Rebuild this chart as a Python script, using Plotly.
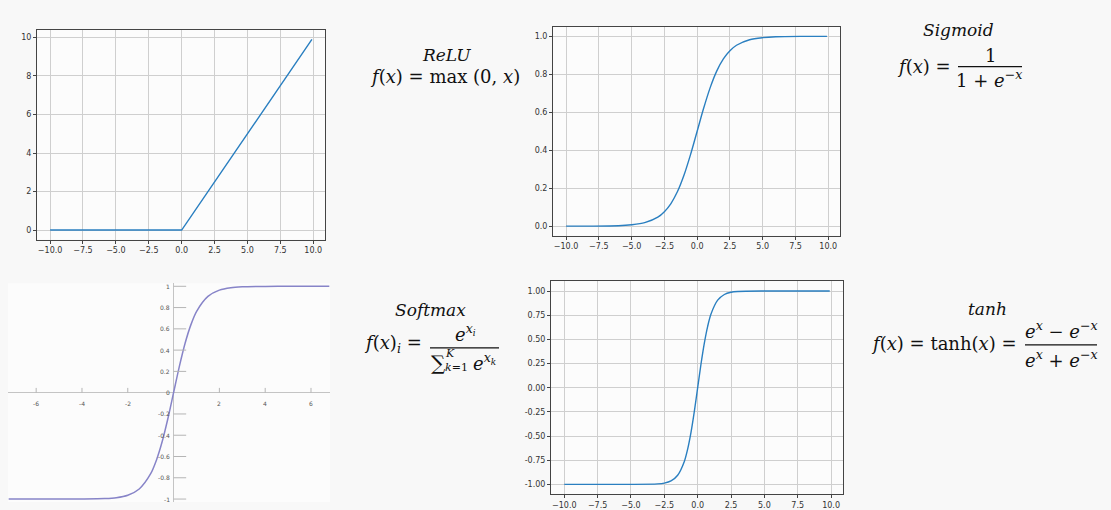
import plotly.graph_objects as go

W, H = 1111, 510

# ---------------- data ----------------
relu_x = [-10.0, 0.0, 9.9]
relu_y = [0.0, 0.0, 9.9]

sig_x = [-10, -8, -6, -5, -4, -3, -2.5, -2, -1.5, -1, -0.5, 0, 0.5, 1, 1.5, 2, 2.5, 3, 4, 5, 6, 8, 9.9]
sig_y = [0.0, 0.0, 0.002, 0.007, 0.018, 0.047, 0.076, 0.119, 0.182, 0.269, 0.378, 0.5,
         0.622, 0.731, 0.818, 0.881, 0.924, 0.953, 0.982, 0.993, 0.998, 1.0, 1.0]

tanh_x = [-10, -5, -3, -2.5, -2, -1.5, -1, -0.75, -0.5, -0.25, 0, 0.25, 0.5, 0.75, 1, 1.5, 2, 2.5, 3, 5, 9.9]
tanh_y = [-1.0, -1.0, -0.995, -0.987, -0.964, -0.905, -0.762, -0.635, -0.462, -0.245, 0.0,
          0.245, 0.462, 0.635, 0.762, 0.905, 0.964, 0.987, 0.995, 1.0, 1.0]

soft_x = [-7.2, -5, -4, -3, -2.5, -2, -1.5, -1, -0.75, -0.5, -0.25, 0, 0.25, 0.5, 0.75, 1, 1.5, 2, 2.5, 3, 4, 5, 6.8]
soft_y = [-1.0, -1.0, -0.999, -0.995, -0.987, -0.964, -0.905, -0.762, -0.635, -0.462, -0.245, 0.0,
          0.245, 0.462, 0.635, 0.762, 0.905, 0.964, 0.987, 0.995, 0.999, 1.0, 1.0]

x_ticks = [-10, -7.5, -5, -2.5, 0, 2.5, 5, 7.5, 10]
x_labels = ["\u221210.0", "\u22127.5", "\u22125.0", "\u22122.5", "0.0", "2.5", "5.0", "7.5", "10.0"]
relu_yticks = [0, 2, 4, 6, 8, 10]
relu_ylabels = ["0", "2", "4", "6", "8", "10"]
sig_yticks = [0, 0.2, 0.4, 0.6, 0.8, 1.0]
sig_ylabels = ["0.0", "0.2", "0.4", "0.6", "0.8", "1.0"]
tanh_yticks = [-1, -0.75, -0.5, -0.25, 0, 0.25, 0.5, 0.75, 1]
tanh_ylabels = ["-1.00", "-0.75", "-0.50", "-0.25", "0.00", "0.25", "0.50", "0.75", "1.00"]
soft_xticks = [-6, -4, -2, 2, 4, 6]
soft_xlabels = ["-6", "-4", "-2", "2", "4", "6"]
soft_yticks = [1, 0.8, 0.6, 0.4, 0.2, 0, -0.2, -0.4, -0.6, -0.8, -1]
soft_ylabels = ["1", "0.8", "0.6", "0.4", "0.2", "0", "-0.2", "-0.4", "-0.6", "-0.8", "-1"]

# ---------------- helpers ----------------
def px(x):
    return x / W

def py(y):
    return 1 - y / H

BLUE = "#2a7fc0"
PURPLE = "#8784c8"
TICKFONT = dict(family="DejaVu Sans", size=8, color="#333333")
MATHFONT = "DejaVu Serif"

fig = go.Figure()

fig.add_trace(go.Scatter(x=relu_x, y=relu_y, mode="lines", line=dict(color=BLUE, width=1.4),
                         xaxis="x", yaxis="y", showlegend=False))
fig.add_trace(go.Scatter(x=sig_x, y=sig_y, mode="lines", line=dict(color=BLUE, width=1.4, shape="spline", smoothing=0.8),
                         xaxis="x2", yaxis="y2", showlegend=False))
fig.add_trace(go.Scatter(x=soft_x, y=soft_y, mode="lines", line=dict(color=PURPLE, width=1.5, shape="spline", smoothing=0.8),
                         xaxis="x3", yaxis="y3", showlegend=False))
fig.add_trace(go.Scatter(x=tanh_x, y=tanh_y, mode="lines", line=dict(color=BLUE, width=1.4, shape="spline", smoothing=0.8),
                         xaxis="x4", yaxis="y4", showlegend=False))

def mpl_axis(domain, rng, tv, tt, anchor):
    return dict(domain=domain, range=rng, tickvals=tv, ticktext=tt, anchor=anchor,
                showgrid=True, gridcolor="#cfcfcf", gridwidth=1, zeroline=False,
                showline=True, linecolor="#444444", linewidth=1, mirror=True,
                ticks="outside", ticklen=3, tickcolor="#444444", tickfont=TICKFONT)

layout = dict(
    width=W, height=H, margin=dict(l=0, r=0, t=0, b=0),
    paper_bgcolor="#f8f8f8", plot_bgcolor="#fcfcfc", showlegend=False,
    xaxis=mpl_axis([px(37), px(325)], [-10.995, 10.895], x_ticks, x_labels, "y"),
    yaxis=mpl_axis([py(241), py(30)], [-0.495, 10.395], relu_yticks, relu_ylabels, "x"),
    xaxis2=mpl_axis([px(553), px(840)], [-10.995, 10.895], x_ticks, x_labels, "y2"),
    yaxis2=mpl_axis([py(237), py(27)], [-0.05, 1.05], sig_yticks, sig_ylabels, "x2"),
    xaxis4=mpl_axis([px(551), px(843)], [-10.995, 10.895], x_ticks, x_labels, "y4"),
    yaxis4=mpl_axis([py(497), py(283)], [-1.1, 1.1], tanh_yticks, tanh_ylabels, "x4"),
    xaxis3=dict(domain=[px(8), px(330)], range=[-7.23, 6.83], anchor="y3", showgrid=False,
                zeroline=True, zerolinecolor="#c4c4c4", zerolinewidth=1.2, showticklabels=False, ticks=""),
    yaxis3=dict(domain=[py(505), py(285)], range=[-1.028, 1.028], anchor="x3", showgrid=False,
                zeroline=True, zerolinecolor="#c4c4c4", zerolinewidth=1.2, showticklabels=False, ticks=""),
)
fig.update_layout(**layout)

shapes = []
annotations = []

# panel 3 custom ticks (axes crossing at origin)
for xv, lab in zip(soft_xticks, soft_xlabels):
    shapes.append(dict(type="line", xref="x3", yref="y3", x0=xv, x1=xv, y0=0, y1=0.045,
                       line=dict(color="#b5b5b5", width=1)))
    annotations.append(dict(xref="x3", yref="y3", x=xv, y=0, yshift=-11, text=lab, showarrow=False,
                            font=dict(family="DejaVu Sans", size=6, color="#555555")))
for yv, lab in zip(soft_yticks, soft_ylabels):
    if yv != 0:
        shapes.append(dict(type="line", xref="x3", yref="y3", x0=0, x1=0.55, y0=yv, y1=yv,
                           line=dict(color="#b5b5b5", width=1)))
    annotations.append(dict(xref="x3", yref="y3", x=0, y=yv, xshift=-2, xanchor="right", text=lab,
                            showarrow=False, font=dict(family="DejaVu Sans", size=6, color="#555555")))

def txt(x, y, s, size=18, xanchor="center"):
    annotations.append(dict(xref="paper", yref="paper", x=px(x), y=py(y), text=s, showarrow=False,
                            xanchor=xanchor, yanchor="middle",
                            font=dict(family=MATHFONT, size=size, color="#111111")))

def frac_line(x0, x1, y):
    shapes.append(dict(type="line", xref="paper", yref="paper", x0=px(x0), x1=px(x1), y0=py(y), y1=py(y),
                       line=dict(color="#111111", width=1.3)))

# ReLU
txt(446, 55, "<i>ReLU</i>", 17)
txt(445, 77, "<i>f</i>(<i>x</i>) = max (0, <i>x</i>)", 18)

# Sigmoid
txt(958, 30, "<i>Sigmoid</i>", 17)
txt(953, 67, "<i>f</i>(<i>x</i>) =", 18, "right")
txt(990, 56, "1", 18)
frac_line(958, 1022, 67)
txt(989, 79, "1 + <i>e</i><sup>\u2212<i>x</i></sup>", 18)

# Softmax
txt(430, 312, "<i>Softmax</i>", 17)
txt(424, 346, "<i>f</i>(<i>x</i>)<sub><i>i</i></sub> =", 18, "right")
txt(465, 335, "<i>e</i><sup><i>x</i><sub><i>i</i></sub></sup>", 18)
frac_line(430, 499, 350)
txt(438, 365, "\u2211", 20)
txt(450, 356, "<i>K</i>", 11)
txt(456, 370, "<i>k</i>=1", 11)
txt(484, 364, "<i>e</i><sup><i>x</i><sub><i>k</i></sub></sup>", 18)

# tanh
txt(987, 311, "<i>tanh</i>", 17)
txt(1019, 346, "<i>f</i>(<i>x</i>) = tanh(<i>x</i>) =", 18, "right")
txt(1061, 332, "<i>e</i><sup><i>x</i></sup> \u2212 <i>e</i><sup>\u2212<i>x</i></sup>", 18)
frac_line(1025, 1097, 347)
txt(1061, 361, "<i>e</i><sup><i>x</i></sup> + <i>e</i><sup>\u2212<i>x</i></sup>", 18)

fig.update_layout(shapes=shapes, annotations=annotations)
fig.write_html("out.html", config={"displayModeBar": False},
               post_script="document.body.style.margin='0';document.body.style.overflow='hidden';")
